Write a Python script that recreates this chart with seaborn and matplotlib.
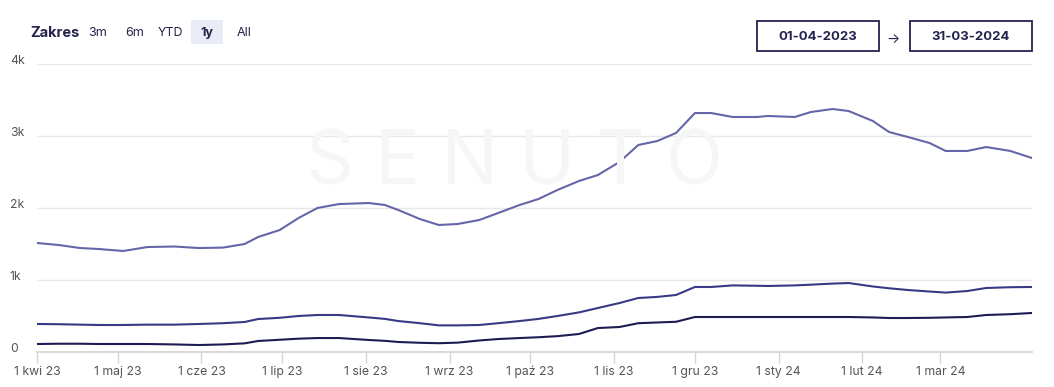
import pandas as pd
import seaborn as sns
import matplotlib.pyplot as plt
from matplotlib.patches import Rectangle
from matplotlib.transforms import ScaledTranslation

W, H = 1054, 387

# sample dates
dates = [
    "2023-04-01", "2023-04-09", "2023-04-17", "2023-04-24", "2023-05-03", "2023-05-12",
    "2023-05-22", "2023-05-31", "2023-06-09", "2023-06-17", "2023-06-22", "2023-06-30",
    "2023-07-07", "2023-07-14", "2023-07-22", "2023-08-02", "2023-08-08", "2023-08-13",
    "2023-08-21", "2023-08-28", "2023-09-04", "2023-09-12", "2023-09-19", "2023-09-27",
    "2023-10-04", "2023-10-11", "2023-10-19", "2023-10-26", "2023-11-03", "2023-11-10",
    "2023-11-17", "2023-11-24", "2023-12-01", "2023-12-07", "2023-12-15", "2023-12-24",
    "2023-12-28", "2024-01-07", "2024-01-13", "2024-01-21", "2024-01-27", "2024-02-05",
    "2024-02-11", "2024-02-18", "2024-02-26", "2024-03-03", "2024-03-11", "2024-03-18",
    "2024-03-27", "2024-04-04",
]

top50 = [
    1514, 1486, 1444, 1430, 1403, 1458, 1465, 1444, 1450, 1500, 1597, 1694,
    1861, 2000, 2055, 2069, 2042, 1972, 1847, 1764, 1778, 1833, 1930, 2042,
    2125, 2250, 2375, 2458, 2639, 2875, 2930, 3042, 3319, 3319, 3264, 3264,
    3278, 3264, 3333, 3375, 3347, 3208, 3055, 2986, 2903, 2792, 2792, 2847,
    2792, 2694,
]
top10 = [
    389, 386, 380, 375, 375, 380, 380, 389, 400, 417, 458, 475,
    500, 514, 514, 480, 460, 430, 400, 370, 370, 375, 400, 430,
    460, 500, 550, 611, 680, 750, 765, 792, 903, 903, 925, 920,
    917, 925, 935, 950, 958, 910, 885, 861, 840, 825, 847, 889,
    900, 903,
]
top3 = [
    111, 115, 115, 111, 111, 111, 105, 97, 105, 120, 153, 170,
    185, 194, 194, 167, 155, 139, 128, 122, 130, 160, 180, 194,
    205, 220, 250, 333, 347, 400, 410, 420, 486, 486, 486, 486,
    486, 486, 486, 486, 486, 480, 472, 472, 475, 480, 486, 514,
    525, 542,
]

series_names = ["TOP 50", "TOP 10", "TOP 3"]
colors = ["#6466a8", "#383a85", "#1d1c52"]

month_ticks = pd.date_range("2023-04-01", "2024-03-01", freq="MS")
month_names = ["kwi", "maj", "cze", "lip", "sie", "wrz", "paź", "lis", "gru", "sty", "lut", "mar"]
month_labels = [f"1 {m} {d.strftime('%y')}" for m, d in zip(month_names, month_ticks)]
y_ticks = [0, 1000, 2000, 3000, 4000]
y_labels = ["0", "1k", "2k", "3k", "4k"]

d = pd.to_datetime(dates)
df = pd.concat([
    pd.DataFrame({"date": d, "value": v, "series": n})
    for n, v in zip(series_names, [top50, top10, top3])
])

sns.set_theme(style="white")
plt.rcParams["font.family"] = ["Inter", "DejaVu Sans"]

fig = plt.figure(figsize=(W / 100, H / 100), dpi=100)
ax = fig.add_axes([37 / W, 35 / H, 995 / W, 288 / H])


def px(x, y):
    return x / W, 1 - y / H


# faint watermark
fig.text(*px(515, 165), "S E N U T O", fontsize=54, color="#f6f6f7", ha="center", va="center",
         fontweight="normal", zorder=0)
ax.set_facecolor("none")

sns.lineplot(data=df, x="date", y="value", hue="series", palette=colors,
             linewidth=1.5, legend=False, ax=ax)

ax.set_xlim(pd.Timestamp("2023-04-01"), pd.Timestamp("2024-04-04"))
ax.set_ylim(0, 4000)
ax.set_xticks(month_ticks)
ax.set_xticklabels(month_labels)
ax.set_yticks(y_ticks)
ax.set_yticklabels(y_labels)
ax.set_xlabel("")
ax.set_ylabel("")

ax.grid(axis="y", color="#e8e8e8", linewidth=1)
for s in ["top", "right", "left"]:
    ax.spines[s].set_visible(False)
ax.spines["bottom"].set_color("#d4d4d4")
ax.tick_params(axis="x", bottom=True, length=8, width=1, color="#d4d4d4",
               labelsize=8.8, labelcolor="#555555", pad=2)
ax.tick_params(axis="y", left=False, length=0, labelsize=8.8, labelcolor="#555555", pad=19.5)
for lbl in ax.get_yticklabels():
    lbl.set_ha("left")
    lbl.set_transform(lbl.get_transform() + ScaledTranslation(0, 4 / 100, fig.dpi_scale_trans))

# range selector header
navy = "#24234d"
fig.text(*px(30, 33), "Zakres", fontsize=10.5, fontweight="bold", color=navy, va="center")
fig.patches.append(Rectangle(px(191, 44), 32 / W, 24 / H, transform=fig.transFigure,
                             facecolor="#e9ebf6", edgecolor="none"))
for label, x, bold in [("3m", 88, False), ("6m", 125, False), ("YTD", 158, False),
                       ("1y", 200, True), ("All", 237, False)]:
    fig.text(*px(x, 33), label, fontsize=9, color=navy, va="center",
             fontweight="bold" if bold else "normal")

# date boxes
for x0, label in [(757, "01-04-2023"), (910, "31-03-2024")]:
    fig.patches.append(Rectangle(px(x0, 51), 122 / W, 30 / H, transform=fig.transFigure,
                                 facecolor="white", edgecolor=navy, linewidth=1.3))
    fig.text(*px(x0 + 61, 37), label, fontsize=9.5, fontweight="bold", color=navy,
             ha="center", va="center")
fig.text(*px(893, 39), "→", fontsize=10, color=navy, ha="center", va="center")

fig.savefig("out.png", dpi=100, facecolor="white")
